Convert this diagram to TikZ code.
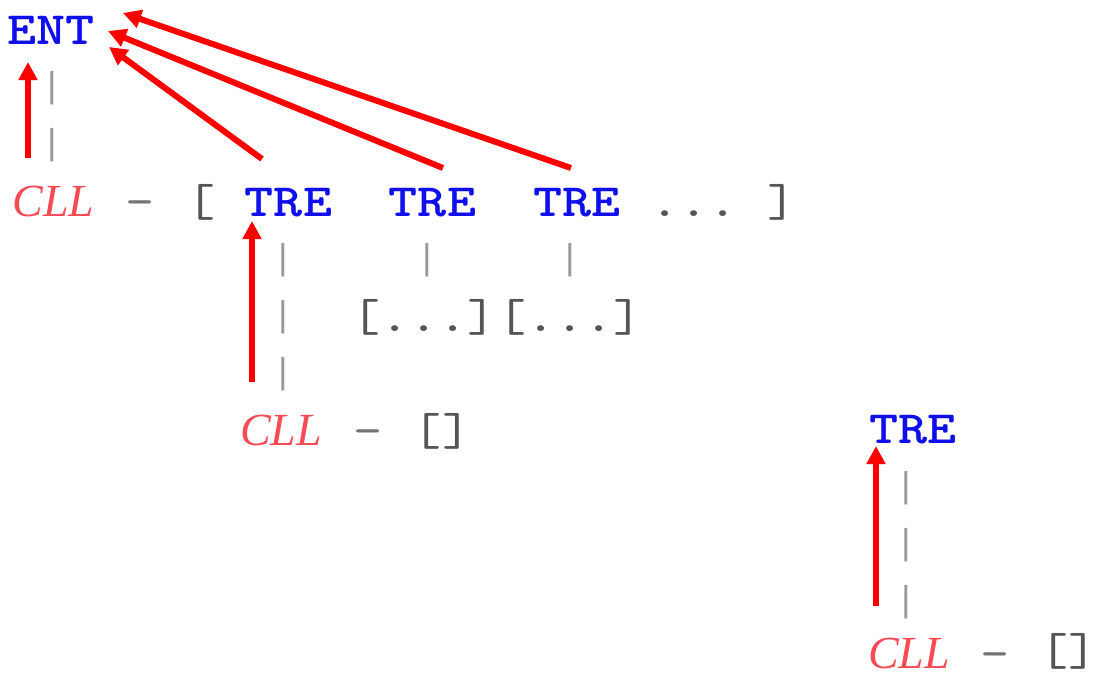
\documentclass[tikz,border=0pt]{standalone}
\usepackage{fontspec}
\usetikzlibrary{arrows.meta}
\newfontfamily\courfont{lmmono10-regular.otf}[FakeStretch=1.2]
\newfontfamily\courbffont{lmmonolt10-bold.otf}[FakeStretch=1.2]
\newfontfamily\barfont{Liberation Mono}
\newfontfamily\cllfont{Liberation Serif}
\definecolor{kwblue}{RGB}{15,15,235}
\definecolor{cllred}{RGB}{245,75,85}
\definecolor{brgray}{RGB}{85,85,85}
\definecolor{hygray}{RGB}{115,115,115}
\definecolor{bargray}{RGB}{150,155,162}
\definecolor{arrred}{RGB}{255,0,0}
\begin{document}
\begin{tikzpicture}[x=1pt,y=-1pt,
  txt/.style={inner sep=0pt,outer sep=0pt,anchor=base},
  kw/.style={txt,font=\courbffont\fontsize{46.2}{48}\selectfont,text=kwblue},
  cll/.style={txt,font=\cllfont\fontsize{46}{48}\selectfont\itshape,text=cllred},
  punct/.style={txt,font=\courfont\fontsize{46.2}{48}\selectfont,text=brgray},
  hyph/.style={txt,font=\courfont\fontsize{46.2}{48}\selectfont,text=hygray},
  vbar/.style={inner sep=0pt,outer sep=0pt,anchor=center,font=\barfont\fontsize{36}{38}\selectfont,text=bargray},
  redarrow/.style={draw=arrred,line width=6pt,-{Triangle[length=18pt,width=18pt]}},
  arrshadow/.style={draw=black,opacity=0.12,line width=6pt,-{Triangle[length=18pt,width=18pt]},shift={(2,2)}}
]
\useasboundingbox (0,0) rectangle (1094,678);
% top
\node[kw] (ent) at (51,44) {ENT};
\node[vbar] (b1) at (52,88) {|};
\node[vbar] (b2) at (52,145) {|};
% row 3
\node[cll] (cll1) at (53.5,216) {CLL};
\node[hyph] (h1) at (140,216) {-};
\node[punct] (lb) at (201,216) {[};
\node[kw] (tre1) at (288.5,216) {TRE};
\node[kw] (tre2) at (432.5,216) {TRE};
\node[kw] (tre3) at (577,216) {TRE};
\node[punct] (dots) at (694,216) {...};
\node[punct] (rb) at (782,216) {]};
% row 4
\node[vbar] (b3) at (283,260) {|};
\node[vbar] (b4) at (427,260) {|};
\node[vbar] (b5) at (570,260) {|};
% row 5
\node[vbar] (b6) at (283,317) {|};
\node[punct] (sub) at (497,331) {[...][...]};
% row 6
\node[vbar] (b7) at (283,374) {|};
% row 7
\node[cll] (cll2) at (281,445) {CLL};
\node[hyph] (h2) at (368,445) {-};
\node[punct] (e1) at (442,445) {[]};
% right block
\node[kw] (tre4) at (913,443) {TRE};
\node[vbar] (b8) at (906,488) {|};
\node[vbar] (b9) at (906,545) {|};
\node[vbar] (b10) at (906,602) {|};
\node[cll] (cll3) at (909,668) {CLL};
\node[hyph] (h3) at (995,668) {-};
\node[punct,anchor=base east] (e2) at (1089,665) {[]\kern-9pt};
% arrows
\coordinate (a1s) at (28,158); \coordinate (a1t) at (28,62);
\coordinate (a2s) at (262,159); \coordinate (a2t) at (109,47);
\coordinate (a3s) at (443,168); \coordinate (a3t) at (108,31);
\coordinate (a4s) at (571,168); \coordinate (a4t) at (123,13);
\coordinate (a5s) at (252,382); \coordinate (a5t) at (252,221);
\coordinate (a6s) at (876,606); \coordinate (a6t) at (876,446);
\foreach \s/\t in {a1s/a1t,a2s/a2t,a3s/a3t,a4s/a4t,a5s/a5t,a6s/a6t}{
  \draw[arrshadow] (\s) -- (\t);
}
\draw[redarrow] (a1s) -- (a1t);
\draw[redarrow] (a2s) -- (a2t);
\draw[redarrow] (a3s) -- (a3t);
\draw[redarrow] (a4s) -- (a4t);
\draw[redarrow] (a5s) -- (a5t);
\draw[redarrow] (a6s) -- (a6t);
\end{tikzpicture}
\end{document}
